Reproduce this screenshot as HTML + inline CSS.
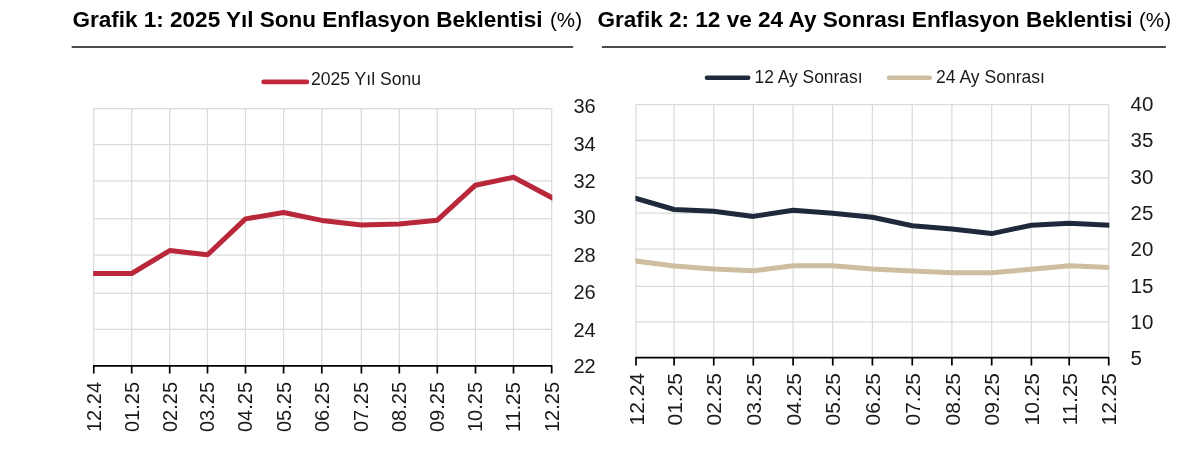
<!DOCTYPE html>
<html><head><meta charset="utf-8"><title>Enflasyon Beklentisi</title>
<style>html,body{margin:0;padding:0;background:#fff;width:1200px;height:453px;overflow:hidden}svg{display:block;will-change:transform}text{font-family:'Liberation Sans', Arial, sans-serif}</style>
</head><body>
<svg width="1200" height="453" viewBox="0 0 1200 453">
<rect width="1200" height="453" fill="#fff"/>
<text x="72.5" y="26.8" font-size="22" font-weight="bold" fill="#000" textLength="470" lengthAdjust="spacingAndGlyphs">Grafik 1: 2025 Yıl Sonu Enflasyon Beklentisi</text>
<text x="550" y="26.8" font-size="21" fill="#000" textLength="32" lengthAdjust="spacingAndGlyphs">(%)</text>
<text x="597.5" y="26.8" font-size="22" font-weight="bold" fill="#000" textLength="535" lengthAdjust="spacingAndGlyphs">Grafik 2: 12 ve 24 Ay Sonrası Enflasyon Beklentisi</text>
<text x="1139" y="26.8" font-size="21" fill="#000" textLength="32" lengthAdjust="spacingAndGlyphs">(%)</text>
<rect x="71.7" y="46" width="501.5" height="2" fill="#4d4d4d"/>
<rect x="601.9" y="46" width="564" height="2" fill="#4d4d4d"/>
<line x1="93.75" y1="108.6" x2="93.75" y2="365.9" stroke="#dbdbdb" stroke-width="1.25"/>
<line x1="131.7" y1="108.6" x2="131.7" y2="365.9" stroke="#dbdbdb" stroke-width="1.25"/>
<line x1="169.7" y1="108.6" x2="169.7" y2="365.9" stroke="#dbdbdb" stroke-width="1.25"/>
<line x1="207.5" y1="108.6" x2="207.5" y2="365.9" stroke="#dbdbdb" stroke-width="1.25"/>
<line x1="245.5" y1="108.6" x2="245.5" y2="365.9" stroke="#dbdbdb" stroke-width="1.25"/>
<line x1="283.6" y1="108.6" x2="283.6" y2="365.9" stroke="#dbdbdb" stroke-width="1.25"/>
<line x1="321.8" y1="108.6" x2="321.8" y2="365.9" stroke="#dbdbdb" stroke-width="1.25"/>
<line x1="361.4" y1="108.6" x2="361.4" y2="365.9" stroke="#dbdbdb" stroke-width="1.25"/>
<line x1="399.3" y1="108.6" x2="399.3" y2="365.9" stroke="#dbdbdb" stroke-width="1.25"/>
<line x1="437.3" y1="108.6" x2="437.3" y2="365.9" stroke="#dbdbdb" stroke-width="1.25"/>
<line x1="475.5" y1="108.6" x2="475.5" y2="365.9" stroke="#dbdbdb" stroke-width="1.25"/>
<line x1="513.5" y1="108.6" x2="513.5" y2="365.9" stroke="#dbdbdb" stroke-width="1.25"/>
<line x1="551.7" y1="108.6" x2="551.7" y2="365.9" stroke="#dbdbdb" stroke-width="1.25"/>
<line x1="93.75" y1="108.6" x2="551.7" y2="108.6" stroke="#dbdbdb" stroke-width="1.25"/>
<line x1="93.75" y1="144.5" x2="551.7" y2="144.5" stroke="#dbdbdb" stroke-width="1.25"/>
<line x1="93.75" y1="180.9" x2="551.7" y2="180.9" stroke="#dbdbdb" stroke-width="1.25"/>
<line x1="93.75" y1="218.7" x2="551.7" y2="218.7" stroke="#dbdbdb" stroke-width="1.25"/>
<line x1="93.75" y1="255.2" x2="551.7" y2="255.2" stroke="#dbdbdb" stroke-width="1.25"/>
<line x1="93.75" y1="293.3" x2="551.7" y2="293.3" stroke="#dbdbdb" stroke-width="1.25"/>
<line x1="93.75" y1="329.4" x2="551.7" y2="329.4" stroke="#dbdbdb" stroke-width="1.25"/>
<clipPath id="c1"><rect x="93.15" y="0" width="459.15" height="453"/></clipPath>
<g clip-path="url(#c1)">
<polyline points="93.75,273.5 131.7,273.5 169.7,250.6 207.5,254.8 245.5,218.9 283.6,212.5 321.8,220.4 361.4,225.1 399.3,223.9 437.3,220.2 475.5,185.2 513.5,177.3 551.7,197.5" fill="none" stroke="#b9273b" stroke-width="5" stroke-linejoin="round" stroke-linecap="square"/>
</g>
<path d="M93.75,373.4 V365.9 H551.7 V373.4 M131.7,365.9 V373.4 M169.7,365.9 V373.4 M207.5,365.9 V373.4 M245.5,365.9 V373.4 M283.6,365.9 V373.4 M321.8,365.9 V373.4 M361.4,365.9 V373.4 M399.3,365.9 V373.4 M437.3,365.9 V373.4 M475.5,365.9 V373.4 M513.5,365.9 V373.4" fill="none" stroke="#000" stroke-width="1.7" stroke-linejoin="round"/>
<text x="573.5" y="113.3" font-size="20" fill="#1a1a1a">36</text>
<text x="573.5" y="150.8" font-size="20" fill="#1a1a1a">34</text>
<text x="573.5" y="188.2" font-size="20" fill="#1a1a1a">32</text>
<text x="573.5" y="224.4" font-size="20" fill="#1a1a1a">30</text>
<text x="573.5" y="261.7" font-size="20" fill="#1a1a1a">28</text>
<text x="573.5" y="299.4" font-size="20" fill="#1a1a1a">26</text>
<text x="573.5" y="336.7" font-size="20" fill="#1a1a1a">24</text>
<text x="573.5" y="373.4" font-size="20" fill="#1a1a1a">22</text>
<text transform="translate(100.65,382) rotate(-90)" text-anchor="end" font-size="20" fill="#1a1a1a" textLength="50" lengthAdjust="spacingAndGlyphs">12.24</text>
<text transform="translate(138.6,382) rotate(-90)" text-anchor="end" font-size="20" fill="#1a1a1a" textLength="50" lengthAdjust="spacingAndGlyphs">01.25</text>
<text transform="translate(176.6,382) rotate(-90)" text-anchor="end" font-size="20" fill="#1a1a1a" textLength="50" lengthAdjust="spacingAndGlyphs">02.25</text>
<text transform="translate(214.4,382) rotate(-90)" text-anchor="end" font-size="20" fill="#1a1a1a" textLength="50" lengthAdjust="spacingAndGlyphs">03.25</text>
<text transform="translate(252.4,382) rotate(-90)" text-anchor="end" font-size="20" fill="#1a1a1a" textLength="50" lengthAdjust="spacingAndGlyphs">04.25</text>
<text transform="translate(290.5,382) rotate(-90)" text-anchor="end" font-size="20" fill="#1a1a1a" textLength="50" lengthAdjust="spacingAndGlyphs">05.25</text>
<text transform="translate(328.7,382) rotate(-90)" text-anchor="end" font-size="20" fill="#1a1a1a" textLength="50" lengthAdjust="spacingAndGlyphs">06.25</text>
<text transform="translate(368.3,382) rotate(-90)" text-anchor="end" font-size="20" fill="#1a1a1a" textLength="50" lengthAdjust="spacingAndGlyphs">07.25</text>
<text transform="translate(406.2,382) rotate(-90)" text-anchor="end" font-size="20" fill="#1a1a1a" textLength="50" lengthAdjust="spacingAndGlyphs">08.25</text>
<text transform="translate(444.2,382) rotate(-90)" text-anchor="end" font-size="20" fill="#1a1a1a" textLength="50" lengthAdjust="spacingAndGlyphs">09.25</text>
<text transform="translate(482.4,382) rotate(-90)" text-anchor="end" font-size="20" fill="#1a1a1a" textLength="50" lengthAdjust="spacingAndGlyphs">10.25</text>
<text transform="translate(520.4,382) rotate(-90)" text-anchor="end" font-size="20" fill="#1a1a1a" textLength="50" lengthAdjust="spacingAndGlyphs">11.25</text>
<text transform="translate(558.6,382) rotate(-90)" text-anchor="end" font-size="20" fill="#1a1a1a" textLength="50" lengthAdjust="spacingAndGlyphs">12.25</text>
<line x1="636" y1="104.5" x2="636" y2="357.7" stroke="#dbdbdb" stroke-width="1.25"/>
<line x1="674.1" y1="104.5" x2="674.1" y2="357.7" stroke="#dbdbdb" stroke-width="1.25"/>
<line x1="713.75" y1="104.5" x2="713.75" y2="357.7" stroke="#dbdbdb" stroke-width="1.25"/>
<line x1="753.3" y1="104.5" x2="753.3" y2="357.7" stroke="#dbdbdb" stroke-width="1.25"/>
<line x1="793.1" y1="104.5" x2="793.1" y2="357.7" stroke="#dbdbdb" stroke-width="1.25"/>
<line x1="832.75" y1="104.5" x2="832.75" y2="357.7" stroke="#dbdbdb" stroke-width="1.25"/>
<line x1="872.4" y1="104.5" x2="872.4" y2="357.7" stroke="#dbdbdb" stroke-width="1.25"/>
<line x1="912.25" y1="104.5" x2="912.25" y2="357.7" stroke="#dbdbdb" stroke-width="1.25"/>
<line x1="951.9" y1="104.5" x2="951.9" y2="357.7" stroke="#dbdbdb" stroke-width="1.25"/>
<line x1="991.7" y1="104.5" x2="991.7" y2="357.7" stroke="#dbdbdb" stroke-width="1.25"/>
<line x1="1031.4" y1="104.5" x2="1031.4" y2="357.7" stroke="#dbdbdb" stroke-width="1.25"/>
<line x1="1069.2" y1="104.5" x2="1069.2" y2="357.7" stroke="#dbdbdb" stroke-width="1.25"/>
<line x1="1108.75" y1="104.5" x2="1108.75" y2="357.7" stroke="#dbdbdb" stroke-width="1.25"/>
<line x1="636" y1="104.5" x2="1108.75" y2="104.5" stroke="#dbdbdb" stroke-width="1.25"/>
<line x1="636" y1="140.4" x2="1108.75" y2="140.4" stroke="#dbdbdb" stroke-width="1.25"/>
<line x1="636" y1="177.8" x2="1108.75" y2="177.8" stroke="#dbdbdb" stroke-width="1.25"/>
<line x1="636" y1="213.2" x2="1108.75" y2="213.2" stroke="#dbdbdb" stroke-width="1.25"/>
<line x1="636" y1="249" x2="1108.75" y2="249" stroke="#dbdbdb" stroke-width="1.25"/>
<line x1="636" y1="286.4" x2="1108.75" y2="286.4" stroke="#dbdbdb" stroke-width="1.25"/>
<line x1="636" y1="321.8" x2="1108.75" y2="321.8" stroke="#dbdbdb" stroke-width="1.25"/>
<clipPath id="c2"><rect x="635.4" y="0" width="473.95" height="453"/></clipPath>
<g clip-path="url(#c2)">
<polyline points="636,198.4 674.1,209.5 713.75,211.25 753.3,216.4 793.1,210.3 832.75,213.3 872.4,217.2 912.25,225.8 951.9,229 991.7,233.6 1031.4,225.2 1069.2,223.3 1108.75,225.1" fill="none" stroke="#1e2a3c" stroke-width="5" stroke-linejoin="round" stroke-linecap="square"/>
<polyline points="636,261 674.1,266 713.75,268.9 753.3,270.8 793.1,265.8 832.75,265.8 872.4,268.9 912.25,270.9 951.9,272.65 991.7,272.65 1031.4,269.3 1069.2,265.8 1108.75,267.4" fill="none" stroke="#cdbea0" stroke-width="5" stroke-linejoin="round" stroke-linecap="square"/>
</g>
<path d="M636,365.6 V357.7 H1108.75 V365.6 M674.1,357.7 V365.6 M713.75,357.7 V365.6 M753.3,357.7 V365.6 M793.1,357.7 V365.6 M832.75,357.7 V365.6 M872.4,357.7 V365.6 M912.25,357.7 V365.6 M951.9,357.7 V365.6 M991.7,357.7 V365.6 M1031.4,357.7 V365.6 M1069.2,357.7 V365.6" fill="none" stroke="#000" stroke-width="1.7" stroke-linejoin="round"/>
<text x="1130.5" y="110.7" font-size="20.5" fill="#1a1a1a">40</text>
<text x="1130.5" y="147.3" font-size="20.5" fill="#1a1a1a">35</text>
<text x="1130.5" y="184.2" font-size="20.5" fill="#1a1a1a">30</text>
<text x="1130.5" y="219.7" font-size="20.5" fill="#1a1a1a">25</text>
<text x="1130.5" y="256.1" font-size="20.5" fill="#1a1a1a">20</text>
<text x="1130.5" y="292.6" font-size="20.5" fill="#1a1a1a">15</text>
<text x="1130.5" y="329" font-size="20.5" fill="#1a1a1a">10</text>
<text x="1130.5" y="365.1" font-size="20.5" fill="#1a1a1a">5</text>
<text transform="translate(643.7,373) rotate(-90)" text-anchor="end" font-size="20" fill="#1a1a1a" textLength="52.5" lengthAdjust="spacingAndGlyphs">12.24</text>
<text transform="translate(681.8,373) rotate(-90)" text-anchor="end" font-size="20" fill="#1a1a1a" textLength="52.5" lengthAdjust="spacingAndGlyphs">01.25</text>
<text transform="translate(721.45,373) rotate(-90)" text-anchor="end" font-size="20" fill="#1a1a1a" textLength="52.5" lengthAdjust="spacingAndGlyphs">02.25</text>
<text transform="translate(761,373) rotate(-90)" text-anchor="end" font-size="20" fill="#1a1a1a" textLength="52.5" lengthAdjust="spacingAndGlyphs">03.25</text>
<text transform="translate(800.8,373) rotate(-90)" text-anchor="end" font-size="20" fill="#1a1a1a" textLength="52.5" lengthAdjust="spacingAndGlyphs">04.25</text>
<text transform="translate(840.45,373) rotate(-90)" text-anchor="end" font-size="20" fill="#1a1a1a" textLength="52.5" lengthAdjust="spacingAndGlyphs">05.25</text>
<text transform="translate(880.1,373) rotate(-90)" text-anchor="end" font-size="20" fill="#1a1a1a" textLength="52.5" lengthAdjust="spacingAndGlyphs">06.25</text>
<text transform="translate(919.95,373) rotate(-90)" text-anchor="end" font-size="20" fill="#1a1a1a" textLength="52.5" lengthAdjust="spacingAndGlyphs">07.25</text>
<text transform="translate(959.6,373) rotate(-90)" text-anchor="end" font-size="20" fill="#1a1a1a" textLength="52.5" lengthAdjust="spacingAndGlyphs">08.25</text>
<text transform="translate(999.4,373) rotate(-90)" text-anchor="end" font-size="20" fill="#1a1a1a" textLength="52.5" lengthAdjust="spacingAndGlyphs">09.25</text>
<text transform="translate(1039.1,373) rotate(-90)" text-anchor="end" font-size="20" fill="#1a1a1a" textLength="52.5" lengthAdjust="spacingAndGlyphs">10.25</text>
<text transform="translate(1076.9,373) rotate(-90)" text-anchor="end" font-size="20" fill="#1a1a1a" textLength="52.5" lengthAdjust="spacingAndGlyphs">11.25</text>
<text transform="translate(1116.45,373) rotate(-90)" text-anchor="end" font-size="20" fill="#1a1a1a" textLength="52.5" lengthAdjust="spacingAndGlyphs">12.25</text>
<line x1="263.6" y1="81.9" x2="306.9" y2="81.9" stroke="#c1283c" stroke-width="4.6" stroke-linecap="round"/>
<text x="311" y="84.6" font-size="18" fill="#1a1a1a" textLength="110" lengthAdjust="spacingAndGlyphs">2025 Yıl Sonu</text>
<line x1="707" y1="77.7" x2="748.2" y2="77.7" stroke="#1e2a3c" stroke-width="4.6" stroke-linecap="round"/>
<text x="754.5" y="82.9" font-size="18" fill="#1a1a1a" textLength="108" lengthAdjust="spacingAndGlyphs">12 Ay Sonrası</text>
<line x1="889" y1="77.7" x2="929.7" y2="77.7" stroke="#cdbea0" stroke-width="4.6" stroke-linecap="round"/>
<text x="936" y="82.9" font-size="18" fill="#1a1a1a" textLength="109" lengthAdjust="spacingAndGlyphs">24 Ay Sonrası</text>
</svg></body></html>
